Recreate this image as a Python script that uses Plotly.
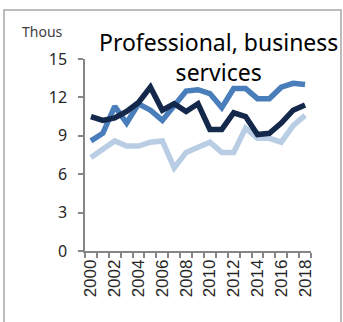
import plotly.graph_objects as go

years = list(range(2000, 2019))
dark_series = [10.5, 10.2, 10.4, 10.9, 11.6, 12.8, 11.0, 11.5, 10.9, 11.5, 9.5, 9.5, 10.8, 10.5, 9.1, 9.2, 10.0, 11.0, 11.4]
medium_series = [8.6, 9.2, 11.3, 10.0, 11.5, 11.0, 10.2, 11.3, 12.5, 12.6, 12.3, 11.2, 12.7, 12.7, 11.9, 11.9, 12.8, 13.1, 13.0]
light_series = [7.3, 8.0, 8.6, 8.2, 8.2, 8.5, 8.6, 6.5, 7.7, 8.1, 8.5, 7.7, 7.7, 9.6, 8.8, 8.8, 8.5, 9.8, 10.6]
x_tick_vals = list(range(2000, 2019, 2))
y_tick_vals = [0, 3, 6, 9, 12, 15]

W, H = 343, 322
L, R, T, B = 85, 32, 59, 71
pw, ph = W - L - R, H - T - B

def px_x(p):
    return (p - L) / pw

def px_y(p):
    return (H - B - p) / ph

fig = go.Figure()
for vals, col in [(light_series, "#b9cde5"), (medium_series, "#4a7ebb"), (dark_series, "#14284b")]:
    fig.add_trace(go.Scatter(x=years, y=vals, mode="lines",
                             line=dict(color=col, width=5.5), hoverinfo="skip"))

fig.update_layout(
    width=W, height=H,
    margin=dict(l=L, r=R, t=T, b=B),
    paper_bgcolor="white", plot_bgcolor="white",
    showlegend=False,
    font=dict(family="Noto Sans", color="#262626"),
    xaxis=dict(range=[1999.5, 2018.5], tickvals=x_tick_vals,
               ticktext=[str(v) for v in x_tick_vals], tickangle=-90,
               ticks="", showgrid=False, zeroline=False,
               showline=True, linecolor="#868686", linewidth=1.5,
               tickfont=dict(family="Liberation Sans", size=17, color="#262626"),
               minor=dict(tick0=1999.5, dtick=1, ticks="outside", ticklen=5,
                          tickcolor="#868686", tickwidth=1.5, showgrid=False)),
    yaxis=dict(range=[0, 15], tickvals=y_tick_vals, ticks="outside", ticklen=5,
               tickcolor="#868686", tickwidth=1.5, showgrid=False, zeroline=False,
               showline=True, linecolor="#868686", linewidth=1.5,
               ticklabelstandoff=8,
               tickfont=dict(family="Noto Sans", size=16, color="#262626")),
)

fig.add_annotation(text="Professional, business<br>services", xref="paper", yref="paper",
                   x=px_x(218.5), y=px_y(57), xanchor="center", yanchor="middle",
                   showarrow=False, font=dict(family="Noto Sans", size=23, color="black"))
fig.add_annotation(text="Thous", xref="paper", yref="paper",
                   x=px_x(42.5), y=px_y(31), xanchor="center", yanchor="middle",
                   showarrow=False, font=dict(family="Noto Sans", size=14, color="#404040"))

fig.add_shape(type="rect", xref="paper", yref="paper",
              x0=px_x(4), x1=px_x(341), y0=px_y(10), y1=px_y(335),
              line=dict(color="#a6a6a6", width=1.5), fillcolor="rgba(0,0,0,0)", layer="below")

fig.write_html("out.html", config={"displayModeBar": False},
               post_script="document.body.style.margin='0';document.body.style.overflow='hidden';")
